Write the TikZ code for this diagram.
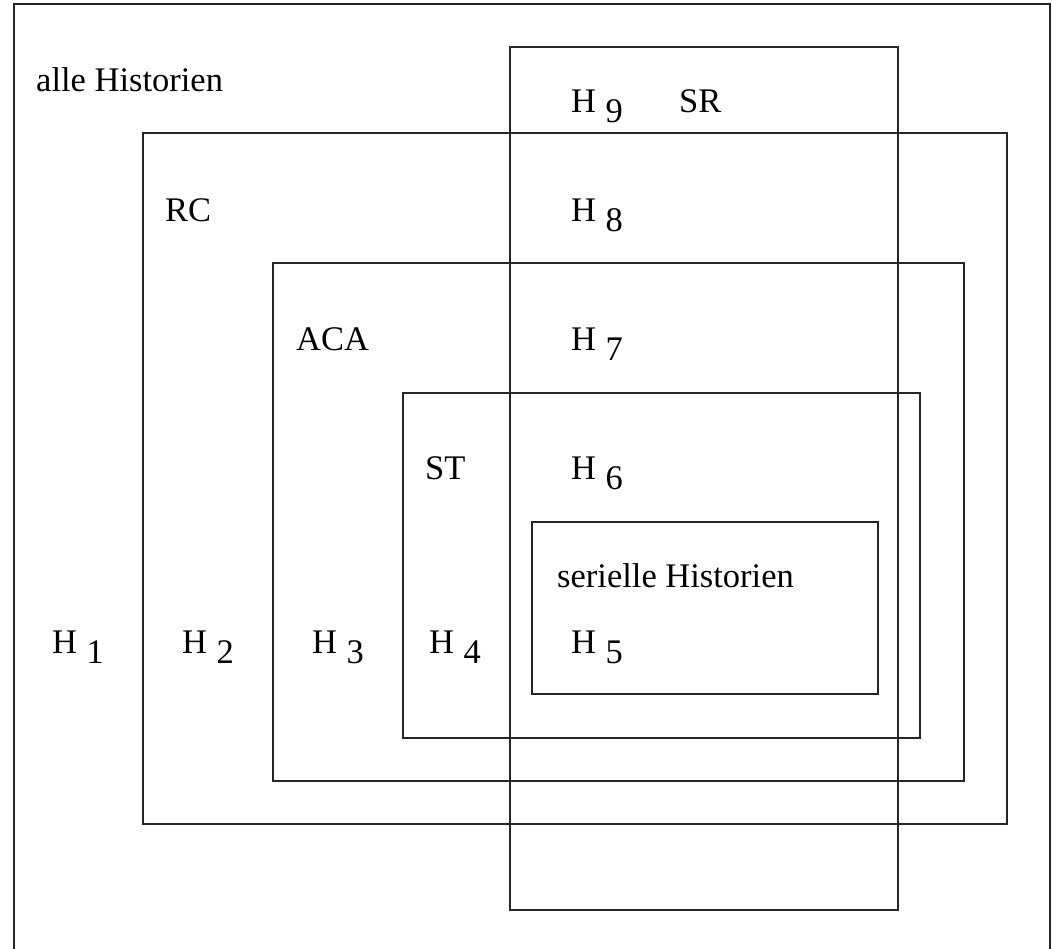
\documentclass[tikz,border=0pt]{standalone}
\usepackage{fontspec}
\setmainfont{Liberation Serif}
\begin{document}
\begin{tikzpicture}[x=1pt,y=-1pt,
  setbox/.style={draw=black!85,line width=1.7pt},
  lbl/.style={anchor=base west,inner sep=0pt,font=\fontsize{34.5}{40}\selectfont},
  hlbl/.style={lbl}]
\useasboundingbox (0,0) rectangle (1053,949);
\newcommand{\hsub}[1]{H\hspace{9.5pt}\raisebox{-10pt}{#1}}
% outer frame (bottom edge lies outside the picture)
\draw[setbox] (14,949) -- (14,4) -- (1050,4) -- (1050,949);
% nested sets
\draw[setbox] (143,133) rectangle (1007,824);
\draw[setbox] (273,263) rectangle (964,781);
\draw[setbox] (403,393) rectangle (920,738);
\draw[setbox] (532,522) rectangle (878,694);
\draw[setbox] (510,47) rectangle (898,910);
% set labels
\node[lbl] (alle) at (36,92) {alle Historien};
\node[lbl] (sr) at (679,113) {SR};
\node[lbl] (rc) at (165,222) {RC};
\node[lbl] (aca) at (296,351) {ACA};
\node[lbl] (st) at (425,480) {ST};
\node[lbl] (ser) at (557,587) {serielle Historien};
% histories
\node[hlbl] (h9) at (571,113) {\hsub{9}};
\node[hlbl] (h8) at (571,222) {\hsub{8}};
\node[hlbl] (h7) at (571,351) {\hsub{7}};
\node[hlbl] (h6) at (571,480) {\hsub{6}};
\node[hlbl] (h5) at (571,653) {\hsub{5}};
\node[hlbl] (h1) at (52,653) {\hsub{1}};
\node[hlbl] (h2) at (182,653) {\hsub{2}};
\node[hlbl] (h3) at (312,653) {\hsub{3}};
\node[hlbl] (h4) at (429,653) {\hsub{4}};
\end{tikzpicture}
\end{document}
